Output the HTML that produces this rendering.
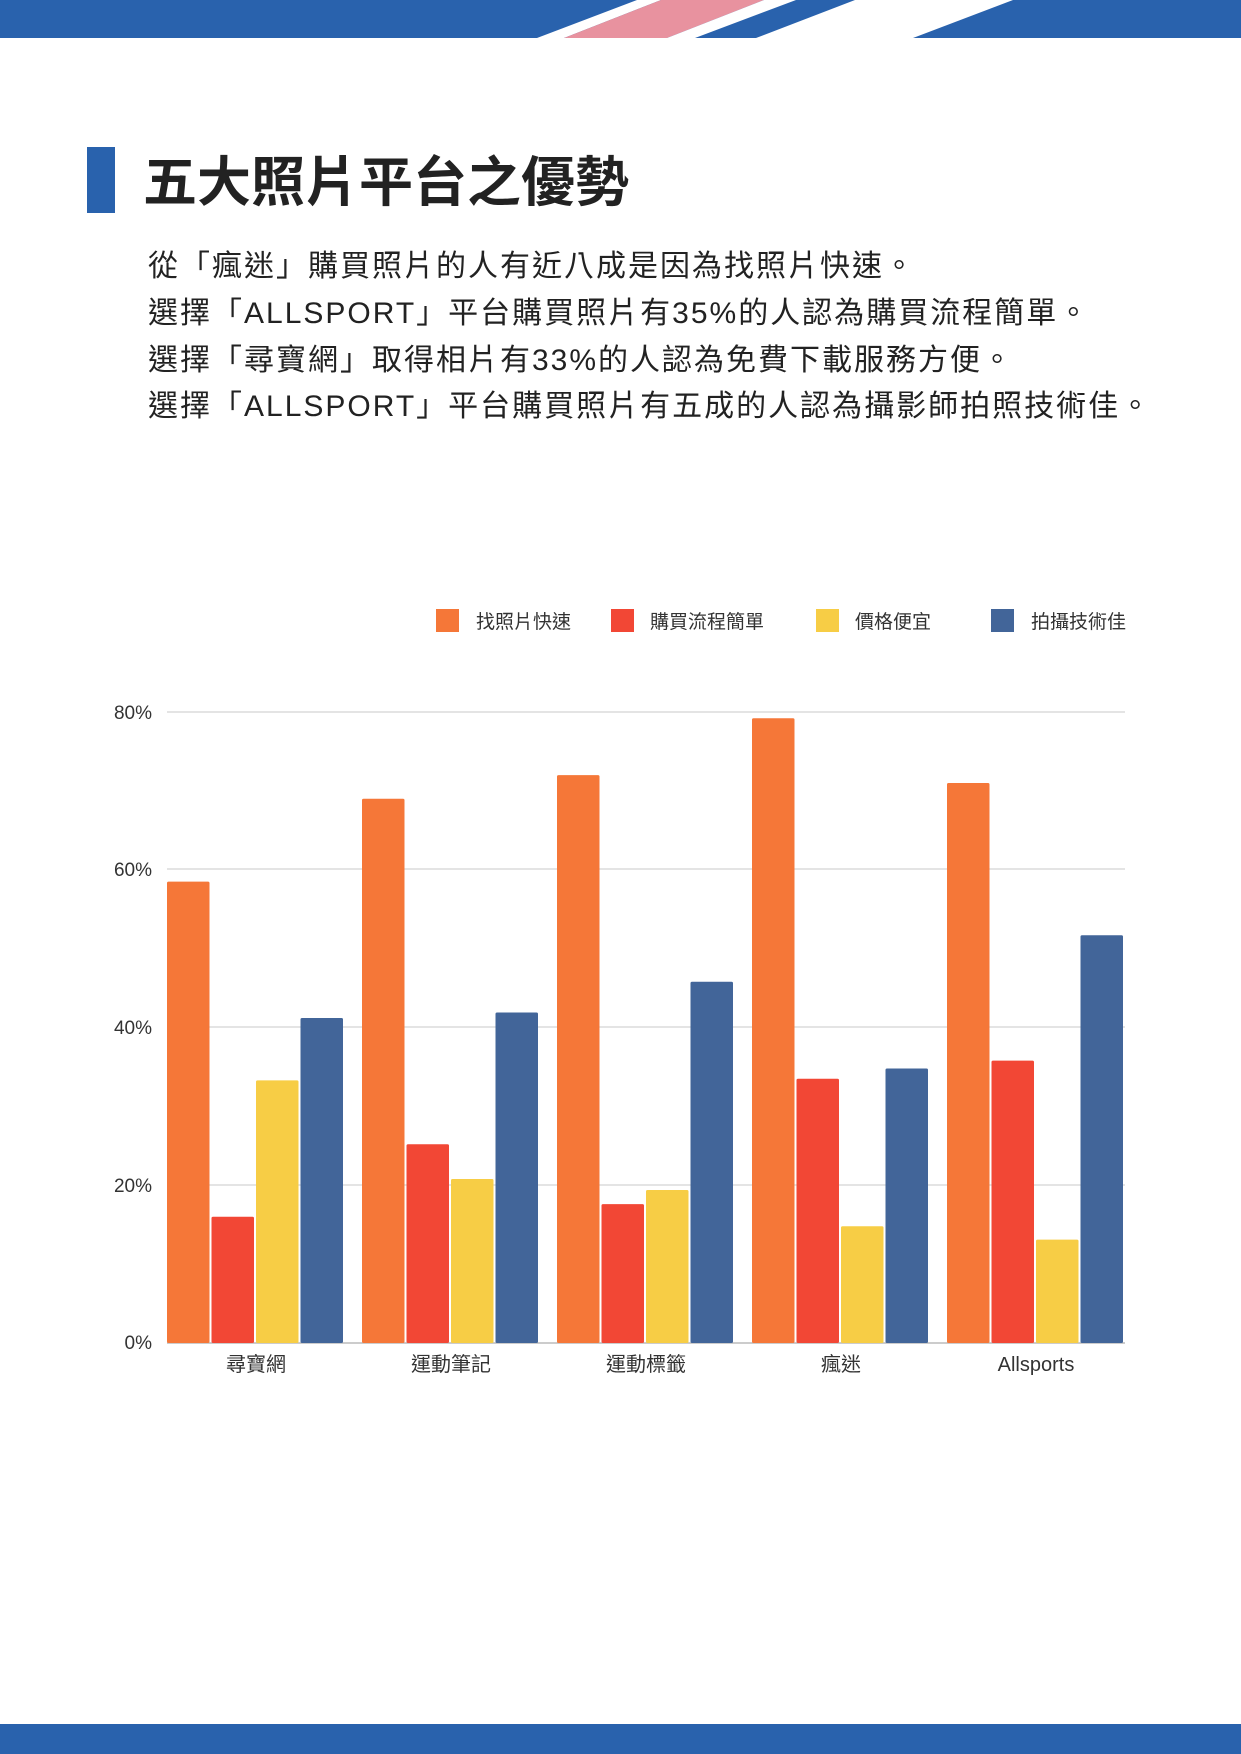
<!DOCTYPE html>
<html><head><meta charset="utf-8"><style>
html,body{margin:0;padding:0;background:#fff}
body{width:1241px;height:1754px;position:relative;overflow:hidden;font-family:"Liberation Sans","Noto Sans CJK TC",sans-serif}
svg{position:absolute;left:0;top:0}
</style></head><body>
<svg width="1241" height="1754" viewBox="0 0 1241 1754" font-family="'Liberation Sans','Noto Sans CJK TC',sans-serif">
<rect x="0" y="0" width="1241" height="38" fill="#2962ad"/>
<polygon points="537,38 637,0 661,0 564,38" fill="#fff"/>
<polygon points="564,38 661,0 764,0 667,38" fill="#e8929f"/>
<polygon points="667,38 764,0 796,0 695,38" fill="#fff"/>
<polygon points="756,38 855,0 1013,0 913,38" fill="#fff"/>
<rect x="0" y="1724" width="1241" height="30" fill="#2962ad"/>
<rect x="87" y="147" width="28" height="66" fill="#2962ad"/>
<text x="143" y="201" font-size="54" font-weight="bold" fill="#222">五大照片平台之優勢</text>
<g font-size="30" fill="#222" letter-spacing="2">
<text x="148" y="276">從「瘋迷」購買照片的人有近八成是因為找照片快速。</text>
<text x="148" y="323">選擇「ALLSPORT」平台購買照片有35%的人認為購買流程簡單。</text>
<text x="148" y="370">選擇「尋寶網」取得相片有33%的人認為免費下載服務方便。</text>
<text x="148" y="416">選擇「ALLSPORT」平台購買照片有五成的人認為攝影師拍照技術佳。</text>
</g>
<g font-size="19" fill="#333">
<rect x="436" y="609" width="23" height="23" fill="#f57738"/><text x="476" y="628">找照片快速</text>
<rect x="611" y="609" width="23" height="23" fill="#f24735"/><text x="650" y="628">購買流程簡單</text>
<rect x="816" y="609" width="23" height="23" fill="#f7cd45"/><text x="855" y="628">價格便宜</text>
<rect x="991" y="609" width="23" height="23" fill="#426599"/><text x="1031" y="628">拍攝技術佳</text>
</g>
<g stroke="#dcdcdc" stroke-width="1.5">
<line x1="167" y1="712" x2="1125" y2="712"/>
<line x1="167" y1="869" x2="1125" y2="869"/>
<line x1="167" y1="1027" x2="1125" y2="1027"/>
<line x1="167" y1="1185" x2="1125" y2="1185"/>
<line x1="167" y1="1343" x2="1125" y2="1343" stroke="#bbb"/>
</g>
<g font-size="19" fill="#333" text-anchor="end">
<text x="152" y="719">80%</text><text x="152" y="876">60%</text><text x="152" y="1034">40%</text><text x="152" y="1192">20%</text><text x="152" y="1349">0%</text>
</g>
<g id="bars"></g>
<g font-size="20" fill="#333" text-anchor="middle">
<text x="256" y="1371">尋寶網</text><text x="451" y="1371">運動筆記</text><text x="646" y="1371">運動標籤</text><text x="841" y="1371">瘋迷</text><text x="1036" y="1371">Allsports</text>
</g>
</svg>
<script>
var d=[[58.5,16,33.3,41.2],[69,25.2,20.8,41.9],[72,17.6,19.4,45.8],[79.2,33.5,14.8,34.8],[71,35.8,13.1,51.7]];
var c=["#f57738","#f24735","#f7cd45","#426599"],s="";
for(var g=0;g<5;g++)for(var i=0;i<4;i++){var h=d[g][i]*631/80;var x=167+g*195+i*44.5;
s+='<rect x="'+x+'" y="'+(1343-h)+'" width="42.5" height="'+h+'" fill="'+c[i]+'" rx="1.5"/>';}
document.getElementById("bars").innerHTML=s;
</script>
</body></html>
